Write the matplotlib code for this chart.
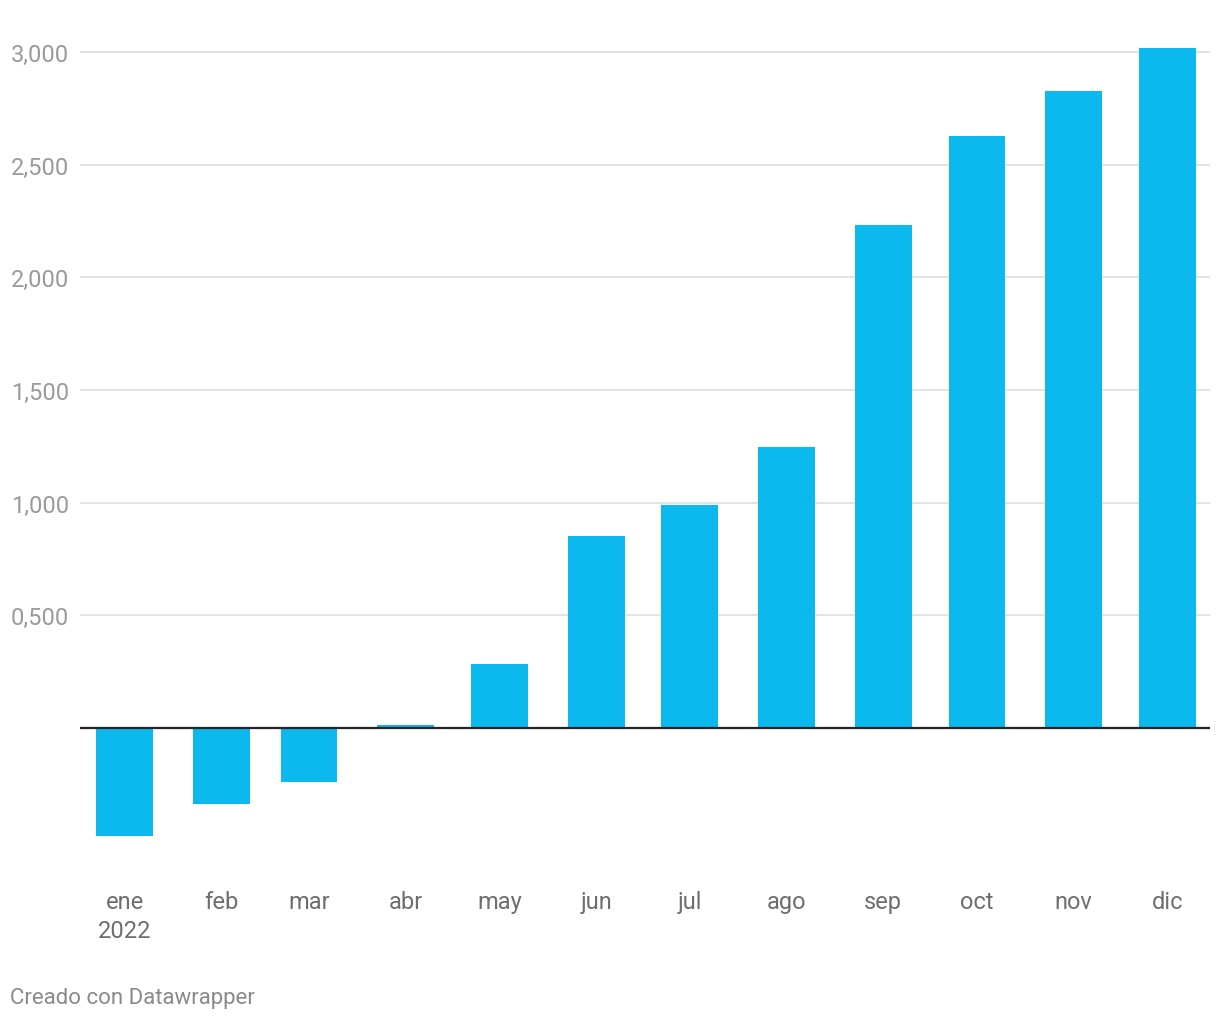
import datetime as dt
import matplotlib
matplotlib.use("Agg")
import matplotlib.pyplot as plt
import matplotlib.dates as mdates

# monthly values
months = ["ene\n2022", "feb", "mar", "abr", "may", "jun",
          "jul", "ago", "sep", "oct", "nov", "dic"]
month_starts = [dt.date(2022, m, 1) for m in range(1, 13)]
values = [-480, -338, -240, 12, 282, 850, 988, 1245, 2232, 2627, 2828, 3018]

yticks = [500, 1000, 1500, 2000, 2500, 3000]
ytick_labels = ["0,500", "1,000", "1,500", "2,000", "2,500", "3,000"]

plt.rcParams['font.family'] = ['Roboto', 'DejaVu Sans']

W, H = 1220, 1020
fig = plt.figure(figsize=(W / 100, H / 100), dpi=100)
# axes placed in pixels: left 80, right 1210, top 20, bottom 880
ax = fig.add_axes([80 / W, 1 - 880 / H, 1130 / W, 860 / H])

x = mdates.date2num(month_starts)
ax.bar(x, values, width=18.2, color="#0bb9ef", zorder=3)

ax.set_xlim(mdates.date2num(dt.date(2021, 12, 18)) - 0.35,
            mdates.date2num(dt.date(2022, 12, 15)) - 0.35)
ax.set_ylim(-670, 3146)

ax.set_yticks(yticks)
ax.set_yticklabels(ytick_labels)
ax.set_xticks(x)
ax.set_xticklabels(months, linespacing=1.3)

ax.grid(True, axis='y', color="#e0e0e0", lw=1.3, zorder=0)
ax.axhline(0, color="#222222", lw=1.6, zorder=4)

for s in ax.spines.values():
    s.set_visible(False)
ax.tick_params(axis='y', length=0, pad=8, labelsize=17, labelcolor="#9a9a9a")
ax.tick_params(axis='x', length=0, pad=8, labelsize=17, labelcolor="#6e6e6e")

fig.text(10 / W, 1 - 999 / H, "Creado con Datawrapper", fontsize=16,
         color="#8a8a8a", ha="left", va="center")

fig.savefig("out.png", dpi=100, facecolor="white")
